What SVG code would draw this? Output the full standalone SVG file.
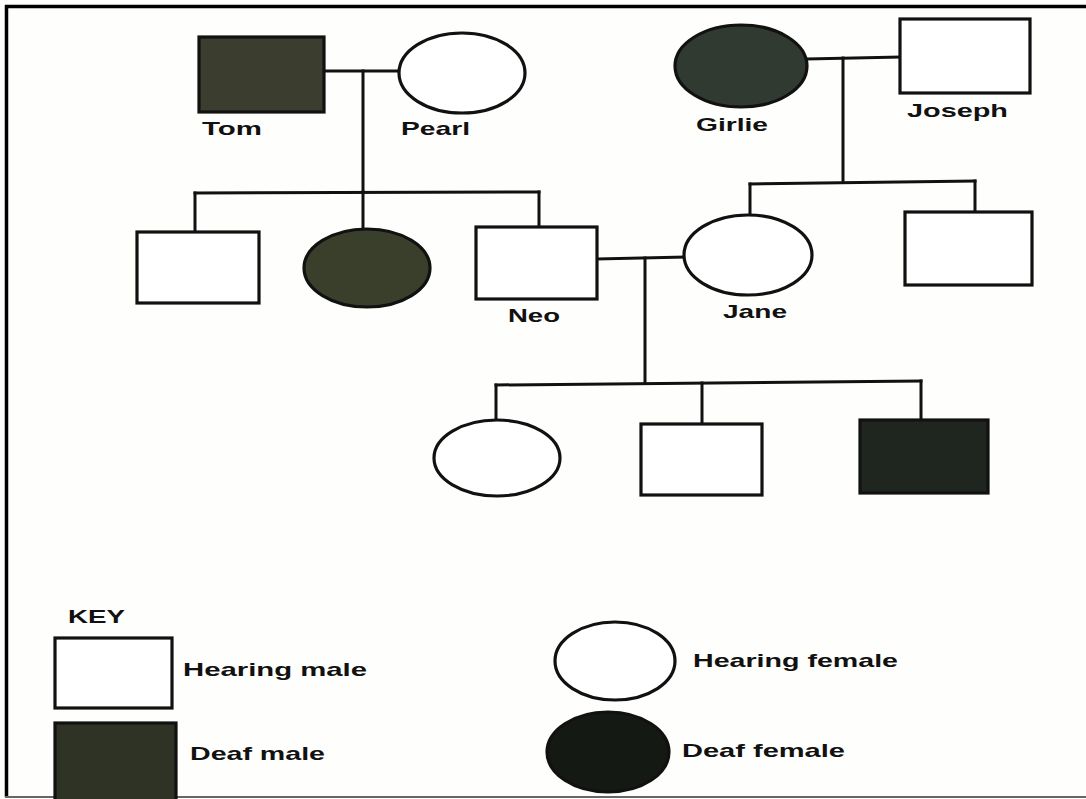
<svg xmlns="http://www.w3.org/2000/svg" width="1086" height="799" viewBox="0 0 1086 799">
<style>
.ln{stroke:#111;stroke-width:3;fill:none;stroke-linecap:square}
.shape{stroke:#111;stroke-width:3.2}
.open{fill:#ffffff}
.lbl{font-family:"Liberation Sans",Arial,sans-serif;font-weight:bold;font-size:19px;fill:#111}
</style>
<rect x="0" y="0" width="1086" height="799" fill="#fefefc"/>
<g id="frame">
<line x1="5" y1="6.5" x2="1086" y2="6.5" stroke="#000" stroke-width="3.5"/>
<line x1="6.5" y1="5" x2="6.5" y2="797" stroke="#000" stroke-width="3.5"/>
<line x1="5" y1="797" x2="1086" y2="797" stroke="#666" stroke-width="2"/>
</g>
<g id="connectors">
<line class="ln" x1="324" y1="71" x2="398" y2="71"/>
<line class="ln" x1="363" y1="71" x2="363" y2="192"/>
<line class="ln" x1="195" y1="193" x2="539" y2="192"/>
<line class="ln" x1="195" y1="193" x2="195" y2="232"/>
<line class="ln" x1="363" y1="192" x2="363" y2="229"/>
<line class="ln" x1="539" y1="192" x2="539" y2="227"/>
<line class="ln" x1="807" y1="59" x2="900" y2="57"/>
<line class="ln" x1="843" y1="58" x2="843" y2="182"/>
<line class="ln" x1="750" y1="184" x2="975" y2="181"/>
<line class="ln" x1="750" y1="184" x2="750" y2="215"/>
<line class="ln" x1="975" y1="181" x2="975" y2="212"/>
<line class="ln" x1="597" y1="259" x2="685" y2="257"/>
<line class="ln" x1="645" y1="258" x2="645" y2="383"/>
<line class="ln" x1="496" y1="385" x2="921" y2="381"/>
<line class="ln" x1="496" y1="385" x2="496" y2="420"/>
<line class="ln" x1="702" y1="383" x2="702" y2="424"/>
<line class="ln" x1="921" y1="381" x2="921" y2="420"/>
</g>
<g id="tom">
<rect class="shape" x="199" y="37" width="125" height="75" fill="#3b3e2e"/>
<text class="lbl" x="202" y="135" textLength="60" lengthAdjust="spacingAndGlyphs">Tom</text>
</g>
<g id="pearl">
<ellipse class="shape open" cx="462" cy="73" rx="63" ry="40"/>
<text class="lbl" x="401" y="135" textLength="69" lengthAdjust="spacingAndGlyphs">Pearl</text>
</g>
<g id="girlie">
<ellipse class="shape" cx="741" cy="66" rx="66" ry="41" fill="#303a30"/>
<text class="lbl" x="696" y="131" textLength="72" lengthAdjust="spacingAndGlyphs">Girlie</text>
</g>
<g id="joseph">
<rect class="shape open" x="900" y="19" width="130" height="74"/>
<text class="lbl" x="907" y="117" textLength="101" lengthAdjust="spacingAndGlyphs">Joseph</text>
</g>
<g id="son1">
<rect class="shape open" x="137" y="232" width="122" height="71"/>
</g>
<g id="daughter1">
<ellipse class="shape" cx="367" cy="268" rx="63" ry="39" fill="#3a3f2c"/>
</g>
<g id="neo">
<rect class="shape open" x="476" y="227" width="121" height="72"/>
<text class="lbl" x="508" y="322" textLength="52" lengthAdjust="spacingAndGlyphs">Neo</text>
</g>
<g id="jane">
<ellipse class="shape open" cx="748" cy="255" rx="64" ry="40"/>
<text class="lbl" x="723" y="318" textLength="64" lengthAdjust="spacingAndGlyphs">Jane</text>
</g>
<g id="son2">
<rect class="shape open" x="905" y="212" width="127" height="73"/>
</g>
<g id="grandchild1">
<ellipse class="shape open" cx="497" cy="458" rx="63" ry="38"/>
</g>
<g id="grandchild2">
<rect class="shape open" x="641" y="424" width="121" height="71"/>
</g>
<g id="grandchild3">
<rect class="shape" x="860" y="420" width="128" height="73" fill="#1e261f"/>
</g>
<g id="key">
<text class="lbl" x="68" y="623" textLength="57" lengthAdjust="spacingAndGlyphs">KEY</text>
</g>
<g id="key-hearing-male">
<rect class="shape open" x="55" y="638" width="117" height="70"/>
<text class="lbl" x="183" y="676" textLength="184" lengthAdjust="spacingAndGlyphs">Hearing male</text>
</g>
<g id="key-deaf-male">
<rect class="shape" x="55" y="723" width="121" height="80" fill="#2e3326"/>
<text class="lbl" x="190" y="760" textLength="135" lengthAdjust="spacingAndGlyphs">Deaf male</text>
</g>
<g id="key-hearing-female">
<ellipse class="shape open" cx="615" cy="661" rx="60" ry="39"/>
<text class="lbl" x="693" y="667" textLength="205" lengthAdjust="spacingAndGlyphs">Hearing female</text>
</g>
<g id="key-deaf-female">
<ellipse class="shape" cx="608" cy="752" rx="61" ry="40" fill="#141914"/>
<text class="lbl" x="682" y="757" textLength="163" lengthAdjust="spacingAndGlyphs">Deaf female</text>
</g>
</svg>
